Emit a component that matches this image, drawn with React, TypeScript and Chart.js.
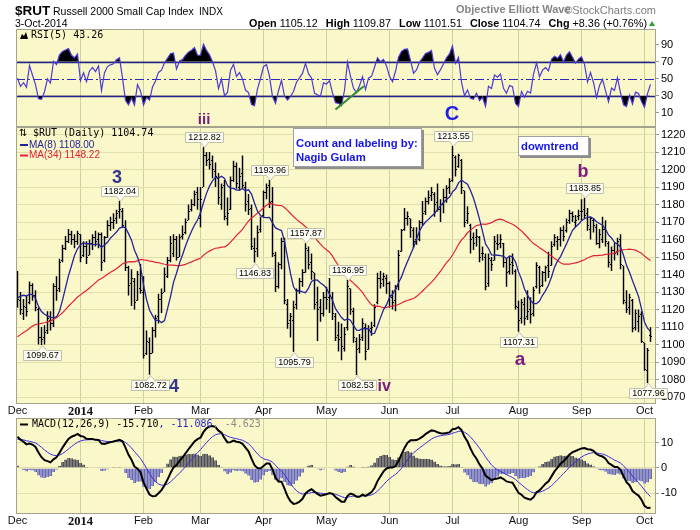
import React, { useEffect, useRef } from 'react';
import { Chart, registerables } from 'chart.js';

Chart.register(...registerables);

const SANS = '"Liberation Sans", Arial, sans-serif';
const SERIF = '"Liberation Serif", "Times New Roman", serif';
const MONO = '"DejaVu Sans Mono", monospace';

// ---------------- data ----------------
const monthTickIdx = [0, 21, 42, 61, 82, 103, 124, 145, 167, 188, 209];
const monthTickLabels = ['Dec', '2014', 'Feb', 'Mar', 'Apr', 'May', 'Jun', 'Jul', 'Aug', 'Sep', 'Oct'];

const opens = [
  1141, 1125, 1118, 1121, 1124, 1134, 1128, 1120, 1104, 1104, 1108, 1114, 1112, 1133, 1132, 1148, 1155, 1159, 1163, 1160, 1159,
  1163, 1151, 1156, 1151, 1158, 1161, 1160, 1163, 1148, 1161, 1168, 1170, 1172, 1176, 1176, 1167, 1144, 1135, 1136, 1125, 1132,
  1130, 1095, 1101, 1095, 1108, 1116, 1126, 1130, 1139, 1148, 1152, 1160, 1150, 1162, 1164, 1171, 1177, 1180, 1187,
  1172, 1190, 1208, 1206, 1205, 1199, 1195, 1180, 1191, 1172, 1177, 1194, 1202, 1190, 1198, 1190, 1182, 1178, 1155, 1155, 1166,
  1174, 1187, 1191, 1182, 1151, 1133, 1146, 1159, 1123, 1114, 1114, 1123, 1131, 1136, 1141, 1154, 1147, 1141, 1124, 1121, 1118,
  1127, 1127, 1127, 1116, 1105, 1104, 1098, 1110, 1132, 1119, 1102, 1098, 1104, 1110, 1097, 1109, 1111, 1124, 1138, 1137, 1138,
  1135, 1127, 1125, 1133, 1153, 1166, 1172, 1172, 1165, 1160, 1160, 1170, 1176, 1182, 1185, 1186, 1181, 1177, 1180, 1184, 1190,
  1194, 1207, 1202, 1205, 1188, 1171, 1168, 1161, 1161, 1161, 1152, 1150, 1135, 1148, 1148, 1158, 1158, 1158, 1147, 1142, 1147, 1142,
  1121, 1115, 1123, 1116, 1120, 1118, 1133, 1144, 1134, 1141, 1145, 1145, 1157, 1159, 1160, 1165, 1165, 1171, 1175, 1170, 1173,
  1176, 1177, 1175, 1166, 1171, 1167, 1158, 1160, 1166, 1158, 1146, 1154, 1153, 1160, 1145, 1124, 1121, 1125, 1110, 1113, 1117,
  1101, 1085, 1105.12,
];
const highs = [
  1142, 1130, 1126, 1128, 1136, 1135, 1131, 1121, 1110, 1111, 1119, 1119, 1135, 1139, 1149, 1157, 1162, 1166, 1165, 1163, 1165,
  1163, 1159, 1159, 1160, 1163, 1165, 1164, 1164, 1162, 1171, 1173, 1175, 1177, 1182.04, 1178, 1171, 1145, 1143, 1138, 1142, 1146,
  1139, 1108, 1104, 1110, 1117, 1129, 1132, 1144, 1150, 1162, 1163, 1162, 1163, 1168, 1172, 1180, 1183, 1188, 1190,
  1190, 1212.82, 1210, 1210, 1208, 1204, 1198, 1192, 1194, 1184, 1196, 1205, 1204, 1201, 1208, 1193, 1186, 1180, 1161, 1168, 1173,
  1188, 1192, 1193.96, 1190, 1153, 1147, 1161, 1161, 1126, 1118, 1125, 1132, 1138, 1143, 1157.87, 1156, 1152, 1141, 1133, 1126, 1130,
  1133, 1138, 1130, 1118, 1113, 1112, 1110, 1136.95, 1132, 1121, 1104, 1106, 1115, 1112, 1111, 1113, 1123, 1141, 1142, 1141, 1140,
  1136, 1131, 1134, 1154, 1166, 1178, 1176, 1172, 1167, 1167, 1171, 1182, 1184, 1188, 1190, 1187, 1192, 1183, 1189, 1191, 1195,
  1213.55, 1208, 1209, 1206, 1188, 1179, 1169, 1164, 1166, 1162, 1156, 1152, 1152, 1150, 1162, 1163, 1163, 1158, 1149, 1150, 1152, 1143,
  1125, 1126, 1127, 1131, 1127, 1133, 1147, 1145, 1142, 1145, 1153, 1159, 1163, 1162, 1167, 1168, 1172, 1177, 1176, 1174, 1177,
  1183, 1183.85, 1178, 1173, 1172, 1169, 1166, 1173, 1171, 1159, 1156, 1158, 1161, 1163, 1145, 1131, 1129, 1126, 1120, 1120, 1119,
  1101, 1098, 1109.87,
];
const lows = [
  1121, 1117, 1114, 1116, 1123, 1125, 1119, 1100, 1099.67, 1100, 1106, 1108, 1110, 1125, 1130, 1147, 1154, 1158, 1157, 1155, 1157,
  1147, 1150, 1146, 1151, 1154, 1156, 1155, 1142, 1147, 1161, 1165, 1166, 1169, 1172, 1167, 1142, 1128, 1122, 1120, 1125, 1129,
  1092, 1094, 1082.72, 1095, 1104, 1112, 1118, 1130, 1138, 1147, 1150, 1148, 1150, 1160, 1163, 1171, 1176, 1179, 1177,
  1167, 1190, 1202, 1200, 1195, 1190, 1180, 1177, 1171, 1168, 1177, 1193, 1189, 1188, 1189, 1176, 1174, 1154, 1146.83, 1150, 1164,
  1173, 1183, 1178, 1150, 1130, 1132, 1143, 1123, 1109, 1104, 1095.79, 1120, 1129, 1133, 1141, 1143, 1137, 1120, 1102, 1113, 1116,
  1120, 1118, 1114, 1102, 1096, 1091, 1096, 1108, 1117, 1101, 1082.53, 1095, 1102, 1091, 1097, 1105, 1110, 1123, 1132, 1133, 1129,
  1121, 1120, 1119, 1131, 1153, 1165, 1168, 1161, 1155, 1157, 1159, 1168, 1174, 1180, 1182, 1173, 1176, 1170, 1175, 1181, 1186,
  1193, 1196, 1201, 1186, 1167, 1169, 1152, 1154, 1156, 1147, 1148, 1131, 1133, 1142, 1148, 1154, 1155, 1144, 1133, 1140, 1140, 1120,
  1107.31, 1112, 1111, 1114, 1112, 1116, 1132, 1129, 1133, 1136, 1138, 1145, 1156, 1154, 1156, 1159, 1164, 1169, 1170, 1167, 1171,
  1171, 1172, 1165, 1160, 1164, 1157, 1155, 1158, 1156, 1144, 1142, 1148, 1151, 1143, 1123, 1118, 1117, 1107, 1108, 1107, 1101,
  1085, 1077.96, 1101.51,
];
const closes = [
  1126, 1120, 1122, 1119, 1134, 1128, 1121, 1104, 1103, 1107, 1115, 1112, 1133, 1131, 1147, 1155, 1159, 1163, 1160, 1159, 1163.64,
  1150, 1156, 1150, 1158, 1161, 1159, 1163, 1147, 1161, 1168, 1170, 1171, 1175, 1177, 1168, 1144, 1134, 1138, 1124, 1140, 1131,
  1094, 1102, 1095, 1108, 1115, 1126, 1129, 1140, 1148, 1158, 1160, 1150, 1161, 1163, 1170, 1176, 1180, 1186, 1183,
  1183, 1208, 1205, 1203, 1200, 1196, 1184, 1190, 1173, 1175, 1194, 1202, 1192, 1196, 1191, 1180, 1177, 1156, 1153, 1164, 1173,
  1187, 1190, 1181, 1152, 1133, 1146, 1159, 1125, 1112, 1116, 1121, 1131, 1136, 1141, 1155, 1146, 1142, 1123, 1120, 1118, 1127,
  1126, 1128, 1118, 1104, 1103, 1099, 1106, 1133, 1120, 1104, 1097, 1103, 1112, 1096, 1108, 1110, 1121, 1138, 1135, 1139, 1135,
  1128, 1124, 1132, 1151, 1165, 1172, 1173, 1167, 1159, 1162, 1170, 1175, 1182, 1184, 1187, 1180, 1177, 1180, 1184, 1189, 1192.96,
  1208, 1200, 1208, 1190, 1170, 1175, 1160, 1158, 1162, 1150, 1152, 1133, 1149, 1146, 1159, 1157, 1160, 1147, 1141, 1146, 1145, 1122,
  1114, 1124, 1115, 1119, 1117, 1131, 1145, 1133, 1141, 1144, 1142, 1156, 1161, 1160, 1165, 1162, 1170, 1175, 1173, 1171, 1174,
  1176, 1174, 1168, 1172, 1168, 1158, 1163, 1166, 1159, 1147, 1154, 1152, 1159, 1146, 1125, 1120, 1127, 1109, 1118, 1116, 1102,
  1086, 1096.38, 1104.74,
];
// closes of the weeks before the visible window (needed for MA / MACD / RSI warm-up)
const warmupCloses = [
  1030, 1035, 1040, 1038, 1042, 1048, 1050, 1046, 1044, 1050, 1055, 1052, 1056, 1054, 1058,
  1062, 1060, 1057, 1052, 1048, 1045, 1050, 1058, 1064, 1068, 1066, 1072, 1078, 1080, 1084, 1088, 1086, 1090, 1094, 1091, 1095, 1098, 1096,
  1099, 1101, 1100, 1103, 1100, 1096, 1100, 1103, 1102, 1107, 1110, 1112, 1110, 1108, 1106, 1112, 1118, 1122, 1126, 1130, 1138, 1141,
];

const priceTicks = [1070, 1080, 1090, 1100, 1110, 1120, 1130, 1140, 1150, 1160, 1170, 1180, 1190, 1200, 1210, 1220];
const rsiTicks = [10, 30, 50, 70, 90];
const rsiLevels = [70, 50, 30];
const macdTicks = [-10, 0, 10];

const highTagIdx = [34, 62, 84, 96, 110, 145, 189];
const lowTagIdx = [8, 44, 79, 92, 113, 167, 210];

const waveLabels = ['3', '4', 'iii', 'iv', 'C', 'a', 'b'];
const waveAtIdx = [33.2, 52.2, 62.2, 122.2, 144.8, 167.5, 188.5];
const waveAtPrice = [1195, 1075.7, 1228.3, 1075.7, 1231.7, 1091.1, 1198.6];

const noteLines = [['Count and labeling by:', 'Nagib Gulam'], ['downtrend']];
const noteAtIdx = [91.8, 166.8];
const noteAtPrice = [1223.7, 1219.1];

const rsiTrendIdx = [106, 115.4];
const rsiTrendVal = [13.8, 41.2];

const headerQuote = [['Open', '1105.12'], ['High', '1109.87'], ['Low', '1101.51'], ['Close', '1104.74'], ['Chg', '+8.36 (+0.76%)']];
const priceLegend = '$RUT (Daily) 1104.74';
const ma8Legend = 'MA(8) 1108.00';
const ma34Legend = 'MA(34) 1148.22';
const rsiLegend = 'RSI(5) 43.26';
const macdLegend = ['MACD(12,26,9) -15.710', ', -11.086', ', -4.623'];

// ---------------- indicators ----------------
function smaSeries(arr: number[], n: number) {
  return arr.map((_, i) => {
    if (i < n - 1) return null;
    let s = 0;
    for (let k = i - n + 1; k <= i; k++) s += arr[k];
    return s / n;
  });
}
function emaSeries(arr: number[], n: number) {
  const k = 2 / (n + 1);
  const out: number[] = [];
  let prev = 0;
  arr.forEach((v, i) => {
    prev = i === 0 ? v : v * k + prev * (1 - k);
    out.push(prev);
  });
  return out;
}
function rsiSeries(arr: number[], n: number) {
  const out: (number | null)[] = arr.map(() => null);
  let ag = 0, al = 0;
  for (let i = 1; i <= n; i++) {
    const d = arr[i] - arr[i - 1];
    ag += Math.max(d, 0);
    al += Math.max(-d, 0);
  }
  ag /= n; al /= n;
  out[n] = al === 0 ? 100 : 100 - 100 / (1 + ag / al);
  for (let i = n + 1; i < arr.length; i++) {
    const d = arr[i] - arr[i - 1];
    ag = (ag * (n - 1) + Math.max(d, 0)) / n;
    al = (al * (n - 1) + Math.max(-d, 0)) / n;
    out[i] = al === 0 ? 100 : 100 - 100 / (1 + ag / al);
  }
  return out;
}

const fullCloses = [...warmupCloses, ...closes];
const W = warmupCloses.length;
const ma8 = smaSeries(fullCloses, 8).slice(W);
const ma34 = smaSeries(fullCloses, 34).slice(W);
const e12 = emaSeries(fullCloses, 12);
const e26 = emaSeries(fullCloses, 26);
const macdFull = e12.map((v, i) => v - e26[i]);
const sigFull = emaSeries(macdFull, 9);
const macd = macdFull.slice(W);
const signal = sigFull.slice(W);
const hist = macd.map((v, i) => v - signal[i]);
const rsi = rsiSeries(fullCloses, 5).slice(W);

const pts = (arr: any[]) => arr.map((v, i) => ({ x: i, y: v }));

// ---------------- styles ----------------
const PANEL_BG = '#faf7c9';
const HGRID = '#e2dfae';
const VGRID = '#cdd3a0';
const BORDER = '#a4a48e';
const X_MIN = -0.5;
const X_MAX = 212.83;

const waveStyle: Record<string, [string, number]> = {
  '3': ['#34348e', 18], '4': ['#34348e', 18], iii: ['#7e1a7e', 15], iv: ['#7e1a7e', 16],
  C: ['#1f1fe6', 20], a: ['#7e1a7e', 19], b: ['#7e1a7e', 18],
};
const noteSize = [[129, 39], [71, 20]];

function xScale(showLabels: boolean) {
  return {
    type: 'linear',
    min: X_MIN,
    max: X_MAX,
    offset: false,
    afterBuildTicks: (s: any) => { s.ticks = monthTickIdx.map((v) => ({ value: v })); },
    afterFit: (s: any) => { s.height = showLabels ? 16 : 0; s.paddingLeft = 0; s.paddingRight = 0; },
    ticks: {
      display: showLabels,
      autoSkip: false,
      maxRotation: 0,
      minRotation: 0,
      padding: 0,
      color: '#111',
      font: (c: any) => (c.index === 1 ? { family: SERIF, size: 12.5, weight: 'bold' } : { family: SANS, size: 11 }),
      callback: (_v: any, i: number) => monthTickLabels[i],
    },
    grid: { color: (c: any) => (c.index === 0 ? 'rgba(0,0,0,0)' : VGRID), drawTicks: false, offset: false },
    border: { display: false },
  };
}
function yScale(min: number, max: number, ticks: number[], gridColor: string) {
  return {
    type: 'linear',
    position: 'right',
    min, max,
    beginAtZero: false,
    afterBuildTicks: (s: any) => { s.ticks = ticks.map((v) => ({ value: v })); },
    afterFit: (s: any) => { s.width = 44; s.paddingTop = 0; s.paddingBottom = 0; },
    ticks: { color: '#000', font: { family: SANS, size: 11 }, padding: 2, callback: (v: any) => String(v) },
    grid: { color: gridColor, tickColor: '#999', tickLength: 3, drawTicks: true },
    border: { display: false },
  };
}

const panelPlugin = {
  id: 'panel',
  beforeDraw(chart: any) {
    const { ctx, chartArea: a } = chart;
    ctx.save();
    ctx.fillStyle = PANEL_BG;
    ctx.fillRect(a.left, a.top, a.right - a.left, a.bottom - a.top);
    ctx.restore();
  },
  afterDatasetsDraw(chart: any) {
    const { ctx, chartArea: a } = chart;
    ctx.save();
    ctx.strokeStyle = BORDER;
    ctx.lineWidth = 1;
    ctx.strokeRect(a.left + 0.5, a.top + 0.5, a.right - a.left - 1, a.bottom - a.top - 1);
    ctx.restore();
  },
};

function drawTag(ctx: any, x: number, yTip: number, text: string, above: boolean) {
  ctx.save();
  ctx.font = `9px ${SANS}`;
  const w = Math.round(ctx.measureText(text).width + 5);
  const h = 10;
  const tri = 5;
  const xc = Math.round(x) + 0.5;
  const left = Math.round(x - w / 2) + 0.5;
  const top = above ? Math.round(yTip - tri - h) + 0.5 : Math.round(yTip + tri) + 0.5;
  ctx.beginPath();
  if (above) {
    ctx.moveTo(left, top);
    ctx.lineTo(left + w, top);
    ctx.lineTo(left + w, top + h);
    ctx.lineTo(xc + 4, top + h);
    ctx.lineTo(xc, top + h + tri);
    ctx.lineTo(xc - 4, top + h);
    ctx.lineTo(left, top + h);
  } else {
    ctx.moveTo(left, top);
    ctx.lineTo(xc - 4, top);
    ctx.lineTo(xc, top - tri);
    ctx.lineTo(xc + 4, top);
    ctx.lineTo(left + w, top);
    ctx.lineTo(left + w, top + h);
    ctx.lineTo(left, top + h);
  }
  ctx.closePath();
  ctx.fillStyle = '#fdfdf3';
  ctx.fill();
  ctx.strokeStyle = '#c2c2ac';
  ctx.lineWidth = 1;
  ctx.stroke();
  ctx.fillStyle = '#000';
  ctx.textAlign = 'center';
  ctx.textBaseline = 'middle';
  ctx.fillText(text, left + w / 2, top + h / 2 + 0.5);
  ctx.restore();
}

function legendDash(ctx: any, y: number, color: string) {
  ctx.strokeStyle = color;
  ctx.lineWidth = 2;
  ctx.beginPath();
  ctx.moveTo(20, y);
  ctx.lineTo(28, y);
  ctx.stroke();
}

const priceOverlay = {
  id: 'priceOverlay',
  beforeDatasetsDraw(chart: any) { chart.ctx.imageSmoothingEnabled = false; },
  afterDatasetsDraw(chart: any) { chart.ctx.imageSmoothingEnabled = true; },
  afterDraw(chart: any) {
    const { ctx, scales } = chart;
    const x = scales.x, y = scales.y;
    ctx.save();
    highTagIdx.forEach((i) => drawTag(ctx, x.getPixelForValue(i), y.getPixelForValue(highs[i]), highs[i].toFixed(2), true));
    lowTagIdx.forEach((i) => drawTag(ctx, x.getPixelForValue(i), y.getPixelForValue(lows[i]), lows[i].toFixed(2), false));

    waveLabels.forEach((t, k) => {
      const [col, size] = waveStyle[t];
      ctx.font = `bold ${size}px ${SANS}`;
      ctx.fillStyle = col;
      ctx.textAlign = 'center';
      ctx.textBaseline = 'middle';
      ctx.fillText(t, x.getPixelForValue(waveAtIdx[k]), y.getPixelForValue(waveAtPrice[k]));
    });

    noteLines.forEach((lines, k) => {
      const bx = Math.round(x.getPixelForValue(noteAtIdx[k]));
      const by = Math.round(y.getPixelForValue(noteAtPrice[k]));
      const [w, h] = noteSize[k];
      ctx.fillStyle = '#8e8e8e';
      ctx.fillRect(bx + 2, by + 2, w, h);
      ctx.fillStyle = '#ffffff';
      ctx.fillRect(bx, by, w, h);
      ctx.strokeStyle = '#a0a0a0';
      ctx.lineWidth = 1;
      ctx.strokeRect(bx + 0.5, by + 0.5, w - 1, h - 1);
      ctx.fillStyle = '#1414e8';
      ctx.font = `bold 11.3px ${SANS}`;
      ctx.textAlign = 'left';
      ctx.textBaseline = 'alphabetic';
      lines.forEach((ln, j) => ctx.fillText(ln, bx + 3, by + (lines.length > 1 ? 19 : 14) + j * 14));
    });

    // panel legend
    ctx.textAlign = 'left';
    ctx.textBaseline = 'middle';
    ctx.fillStyle = '#000';
    ctx.font = `10px "DejaVu Sans"`;
    ctx.fillText('\u21C5', 19, 133.5);
    ctx.font = `10px ${MONO}`;
    ctx.fillText(priceLegend, 33, 133.5);
    legendDash(ctx, 145, '#23239b');
    ctx.font = `10px ${SANS}`;
    ctx.fillStyle = '#23239b';
    ctx.fillText(ma8Legend, 29, 145);
    legendDash(ctx, 155.5, '#e0203c');
    ctx.fillStyle = '#e0203c';
    ctx.fillText(ma34Legend, 29, 155.5);
    ctx.restore();
  },
};

const rsiOverlay = {
  id: 'rsiOverlay',
  beforeDatasetsDraw(chart: any) {
    const { ctx, chartArea: a, scales } = chart;
    ctx.save();
    rsiLevels.forEach((lv) => {
      const yy = Math.round(scales.y.getPixelForValue(lv)) + 0.5;
      ctx.strokeStyle = lv === 50 ? '#2a2ac0' : '#23238f';
      ctx.lineWidth = lv === 50 ? 1.2 : 1.4;
      ctx.setLineDash(lv === 50 ? [9, 3, 2, 3] : []);
      ctx.beginPath();
      ctx.moveTo(a.left, yy);
      ctx.lineTo(a.right, yy);
      ctx.stroke();
    });
    ctx.restore();
  },
  afterDraw(chart: any) {
    const { ctx } = chart;
    ctx.save();
    ctx.fillStyle = '#000';
    ctx.beginPath();
    ctx.moveTo(20, 39);
    ctx.lineTo(22, 34);
    ctx.lineTo(24, 36);
    ctx.lineTo(26, 32);
    ctx.lineTo(28, 39);
    ctx.closePath();
    ctx.fill();
    ctx.font = `10px ${MONO}`;
    ctx.textAlign = 'left';
    ctx.textBaseline = 'middle';
    ctx.fillText(rsiLegend, 31, 35.5);
    ctx.restore();
  },
};

const macdOverlay = {
  id: 'macdOverlay',
  afterDraw(chart: any) {
    const { ctx } = chart;
    ctx.save();
    legendDash(ctx, 424.5, '#000');
    ctx.font = `10px ${MONO}`;
    ctx.textAlign = 'left';
    ctx.textBaseline = 'middle';
    const cols = ['#000', '#2a2acc', '#8a8a8a'];
    let xx = 32;
    macdLegend.forEach((t, k) => {
      ctx.fillStyle = cols[k];
      ctx.fillText(t, xx, 424.5);
      xx += ctx.measureText(t).width;
    });
    ctx.restore();
  },
};

function tickImage(side: 'L' | 'R') {
  const c = document.createElement('canvas');
  c.width = 3;
  c.height = 1;
  const g = c.getContext('2d')!;
  g.fillStyle = '#000';
  g.fillRect(side === 'L' ? 0 : 2, 0, 1, 1);
  return c;
}

const common: any = {
  responsive: false,
  maintainAspectRatio: false,
  animation: false,
  events: [],
  plugins: { legend: { display: false }, tooltip: { enabled: false } },
};

export default function App() {
  const rsiRef = useRef<HTMLCanvasElement>(null);
  const priceRef = useRef<HTMLCanvasElement>(null);
  const macdRef = useRef<HTMLCanvasElement>(null);

  useEffect(() => {
    Chart.defaults.font.family = SANS;
    const charts: Chart[] = [];

    charts.push(new Chart(rsiRef.current!, {
      type: 'line',
      data: {
        datasets: [
          { data: pts(rsi), borderColor: '#4b3bd4', borderWidth: 1.2, pointRadius: 0, fill: false, order: 0 },
          { data: pts(rsi), borderColor: 'rgba(0,0,0,0)', borderWidth: 0, pointRadius: 0, order: 2,
            fill: { target: { value: rsiLevels[0] }, above: '#000', below: 'rgba(0,0,0,0)' } },
          { data: pts(rsi), borderColor: 'rgba(0,0,0,0)', borderWidth: 0, pointRadius: 0, order: 2,
            fill: { target: { value: rsiLevels[2] }, above: 'rgba(0,0,0,0)', below: '#000' } },
          { data: rsiTrendIdx.map((v, k) => ({ x: v, y: rsiTrendVal[k] })), borderColor: '#2f8f2f', borderWidth: 2,
            pointRadius: 0, fill: false, order: -1 },
        ] as any,
      },
      options: {
        ...common,
        layout: { padding: { left: 16, right: 0, top: 29, bottom: 403 } },
        scales: { x: xScale(false), y: yScale(-6.8, 108.5, rsiTicks, 'rgba(0,0,0,0)') } as any,
      },
      plugins: [panelPlugin, rsiOverlay],
    } as any));

    const openImg = tickImage('L');
    const closeImg = tickImage('R');
    charts.push(new Chart(priceRef.current!, {
      type: 'bar',
      data: {
        datasets: [
          { type: 'bar', data: lows.map((l, i) => ({ x: i, y: [l, highs[i]] })), backgroundColor: '#000',
            barThickness: 1.45, inflateAmount: 0, grouped: false, order: 3 },
          { type: 'line', data: pts(opens), showLine: false, pointStyle: openImg, pointRadius: 1, order: 2 },
          { type: 'line', data: pts(closes), showLine: false, pointStyle: closeImg, pointRadius: 1, order: 2 },
          { type: 'line', data: pts(ma34), borderColor: '#e3203c', borderWidth: 1.2, pointRadius: 0, order: 1 },
          { type: 'line', data: pts(ma8), borderColor: '#23239b', borderWidth: 1.3, pointRadius: 0, order: 0 },
        ] as any,
      },
      options: {
        ...common,
        layout: { padding: { left: 16, right: 0, top: 127, bottom: 110 } },
        scales: { x: xScale(true), y: yScale(1066.0, 1224.3, priceTicks, HGRID) } as any,
      },
      plugins: [panelPlugin, priceOverlay],
    } as any));

    charts.push(new Chart(macdRef.current!, {
      type: 'bar',
      data: {
        datasets: [
          { type: 'bar', data: pts(hist), barThickness: 3, grouped: false, order: 2, inflateAmount: 0,
            backgroundColor: (c: any) => (c.raw && c.raw.y >= 0 ? '#7a7a7a' : '#9292cc'),
            borderColor: (c: any) => (c.raw && c.raw.y >= 0 ? '#4e4e4e' : '#6a6aa8'),
            borderWidth: { left: 0, right: 1, top: 0, bottom: 0 }, borderSkipped: false },
          { type: 'line', data: pts(signal), borderColor: '#3a2be0', borderWidth: 1, pointRadius: 0, order: 1 },
          { type: 'line', data: pts(macd), borderColor: '#000', borderWidth: 2, pointRadius: 0, order: 0 },
        ] as any,
      },
      options: {
        ...common,
        layout: { padding: { left: 16, right: 0, top: 418, bottom: 0 } },
        scales: { x: xScale(true), y: yScale(-18.18, 19.76, macdTicks, HGRID) } as any,
      },
      plugins: [panelPlugin, macdOverlay],
    } as any));

    return () => charts.forEach((c) => c.destroy());
  }, []);

  const abs = (left: number, top: number, size: number, extra: any = {}) => ({
    position: 'absolute' as const, left, top, fontSize: size, lineHeight: `${size}px`,
    whiteSpace: 'nowrap' as const, fontFamily: SANS, ...extra,
  });

  return (
    <div style={{ position: 'fixed', left: 0, top: 0, width: 700, height: 530, background: '#fff', overflow: 'hidden' }}>
      <canvas ref={rsiRef} width={700} height={530} style={{ position: 'absolute', left: 0, top: 0 }} />
      <canvas ref={macdRef} width={700} height={530} style={{ position: 'absolute', left: 0, top: 0 }} />
      <canvas ref={priceRef} width={700} height={530} style={{ position: 'absolute', left: 0, top: 0 }} />
      <span style={abs(15, 3.6, 13.5, { fontWeight: 700 })}>$RUT</span>
      <span style={abs(53, 6.1, 10.5)}>Russell 2000 Small Cap Index</span>
      <span style={abs(199, 6.5, 10)}>INDX</span>
      <span style={abs(15, 17.8, 10.5)}>3-Oct-2014</span>
      <span style={abs(456, 4.2, 11, { fontWeight: 700, color: '#858585' })}>Objective Elliott Wave</span>
      <span style={{ ...abs(0, 4.8, 11, { color: '#7d7d7d' }), left: undefined, right: 44 }}>©StockCharts.com</span>
      <div style={{ ...abs(0, 17.6, 10.8), left: undefined, right: 53, color: '#000' }}>
        {headerQuote.map(([k, v], i) => (
          <span key={k} style={{ marginLeft: i === 0 ? 0 : 8 }}>
            <b>{k}</b> {v}
          </span>
        ))}
      </div>
      <div style={{ position: 'absolute', left: 649, top: 21, width: 0, height: 0,
        borderLeft: '3.5px solid transparent', borderRight: '3.5px solid transparent', borderBottom: '5px solid #2e9e2e' }} />
    </div>
  );
}
